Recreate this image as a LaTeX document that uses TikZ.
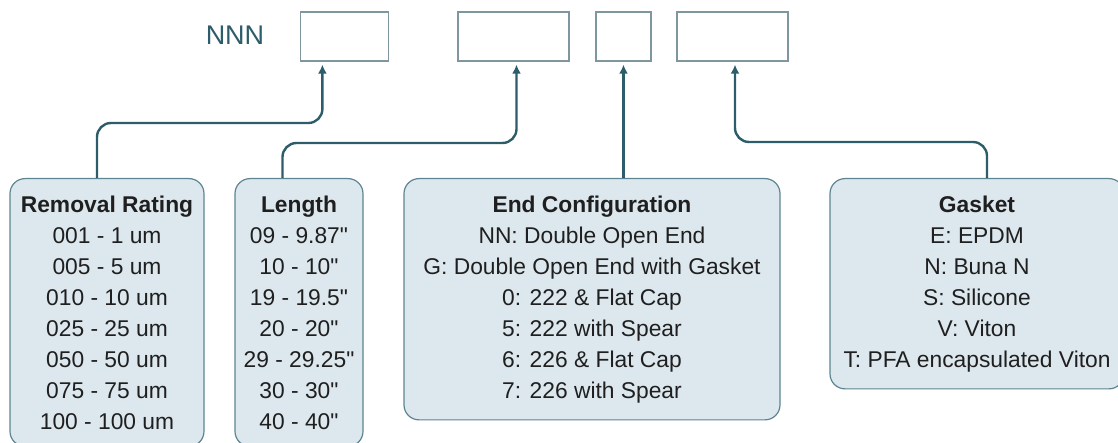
\documentclass[tikz,border=0pt]{standalone}
\usepackage{fontspec}
\setmainfont{Liberation Sans}[Ligatures=TeXOff]
\usetikzlibrary{calc,arrows.meta}

\definecolor{linecol}{HTML}{2D5D6A}
\definecolor{slotgray}{HTML}{7F969E}
\definecolor{boxedge}{HTML}{5D8591}
\definecolor{boxfill}{HTML}{DDE8EE}
\definecolor{textcol}{HTML}{1F1F1F}

\newcommand{\boxfont}{\fontsize{22.8}{31}\selectfont}

\begin{document}
\begin{tikzpicture}[x=1pt,y=-1pt,
	slot/.style={draw=slotgray, line width=1.3pt, minimum height=49pt, inner sep=0pt},
	infobox/.style={draw=boxedge, fill=boxfill, rounded corners=15pt, line width=1.2pt,
		align=center, inner xsep=0pt, inner ysep=17pt, anchor=north,
		font=\boxfont, text=textcol},
	feed/.style={draw=linecol, line width=2.4pt, rounded corners=14pt,
		-{Latex[length=9pt,width=9pt]}, shorten >=3pt}]

	% ---- frame

	\useasboundingbox (0,0) rectangle (1118,443);
	\clip (0,0) rectangle (1118,443);

	% ---- part number

	\node[text=linecol, font=\fontsize{27}{30}\selectfont] (code) at (235,35) {NNN};

	\node[slot, minimum width=87.5pt] (slot1) at (344.4,36.5) {};
	\node[slot, minimum width=111pt] (slot2) at (513.5,36.5) {};
	\node[slot, minimum width=55pt] (slot3) at (623.5,36.5) {};
	\node[slot, minimum width=111pt] (slot4) at (732.5,36.5) {};

	% ---- option boxes

	\node[infobox, minimum width=194pt] (rating) at (107,178)
		{\textbf{Removal Rating}\\001 - 1 um\\005 - 5 um\\010 - 10 um\\025 - 25 um\\050 - 50 um\\075 - 75 um\\100 - 100 um};

	\node[infobox, minimum width=128pt] (length) at (299,178)
		{\textbf{Length}\\09 - 9.87"\\10 - 10"\\19 - 19.5"\\20 - 20"\\29 - 29.25"\\30 - 30"\\40 - 40"};

	\node[infobox, minimum width=376pt] (endcfg) at (592,178)
		{\textbf{End Configuration}\\NN: Double Open End\\G: Double Open End with Gasket\\0: 222 \& Flat Cap\\5: 222 with Spear\\6: 226 \& Flat Cap\\7: 226 with Spear};

	\node[infobox, minimum width=294pt] (gasket) at (977,178)
		{\textbf{Gasket}\\E: EPDM\\N: Buna N\\S: Silicone\\V: Viton\\T: PFA encapsulated Viton};

	% ---- bends

	\coordinate (b1) at (97,123);
	\coordinate (b2) at (282.5,143);
	\coordinate (b4) at (987,142);

	% ---- connectors

	\draw[feed] (rating.north -| b1) -- (b1) -| ([xshift=-22pt]slot1.south);
	\draw[feed] (length.north -| b2) -- (b2) -| ([xshift=3pt]slot2.south);
	\draw[feed] (endcfg.north -| slot3.south) -- (slot3.south);
	\draw[feed] (gasket.north -| b4) -- (b4) -| ([xshift=2.5pt]slot4.south);

\end{tikzpicture}
\end{document}
